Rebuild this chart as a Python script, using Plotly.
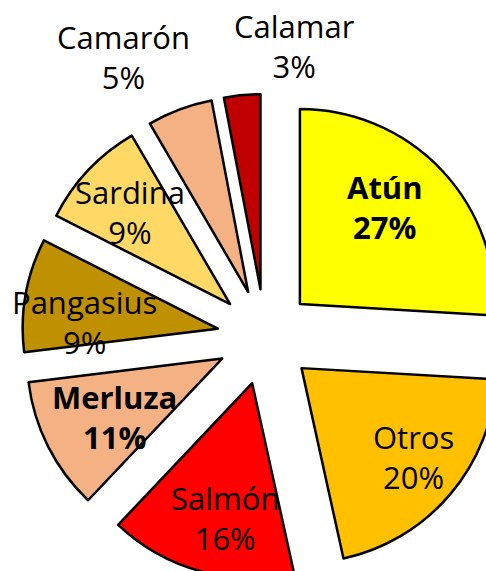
import plotly.graph_objects as go

# Data (slice sizes; printed percentages as shown)
labels = ["Atún", "Otros", "Salmón", "Merluza", "Pangasius", "Sardina", "Camarón", "Calamar"]
shares = [25.9, 20.6, 15.5, 11.0, 9.4, 9.1, 5.4, 3.0]
pct_text = ["27%", "20%", "16%", "11%", "9%", "9%", "5%", "3%"]
colors = ["#FFFF00", "#FFC000", "#FF0000", "#F4B183", "#BF9000", "#FFD966", "#F4B183", "#C00000"]
bold = [True, False, False, True, False, False, False, False]

# label block centres in pixels (layout only)
label_px = [(385, 207), (413, 457), (225, 518), (114, 417), (84, 322), (130, 212), (123, 57), (294, 46)]

W, H = 530, 580
PIE_H = 486
CY = 337

fig = go.Figure(go.Pie(
    labels=labels,
    values=shares,
    sort=False,
    direction="clockwise",
    rotation=0,
    pull=[0.246] * len(labels),
    marker=dict(colors=colors, line=dict(color="black", width=2.5)),
    textinfo="none",
    hoverinfo="label+percent",
    showlegend=False,
    domain=dict(x=[0, 1], y=[1 - (CY + PIE_H / 2) / H, 1 - (CY - PIE_H / 2) / H]),
))

for lab, pct, b, (px, py) in zip(labels, pct_text, bold, label_px):
    txt = f"<b>{lab}<br>{pct}</b>" if b else f"{lab}<br>{pct}"
    fig.add_annotation(
        x=px / W, y=1 - py / H, xref="paper", yref="paper",
        text=txt, showarrow=False, xanchor="center", yanchor="middle",
        align="center", font=dict(family="Open Sans", size=31, color="black"),
    )

fig.update_layout(
    width=W, height=H,
    margin=dict(l=0, r=0, t=0, b=0),
    paper_bgcolor="white", plot_bgcolor="white",
)

fig.write_html(
    "out.html",
    config={"displayModeBar": False},
    post_script="document.documentElement.style.overflow='hidden';"
                "document.body.style.overflow='hidden';document.body.style.margin='0';",
)
